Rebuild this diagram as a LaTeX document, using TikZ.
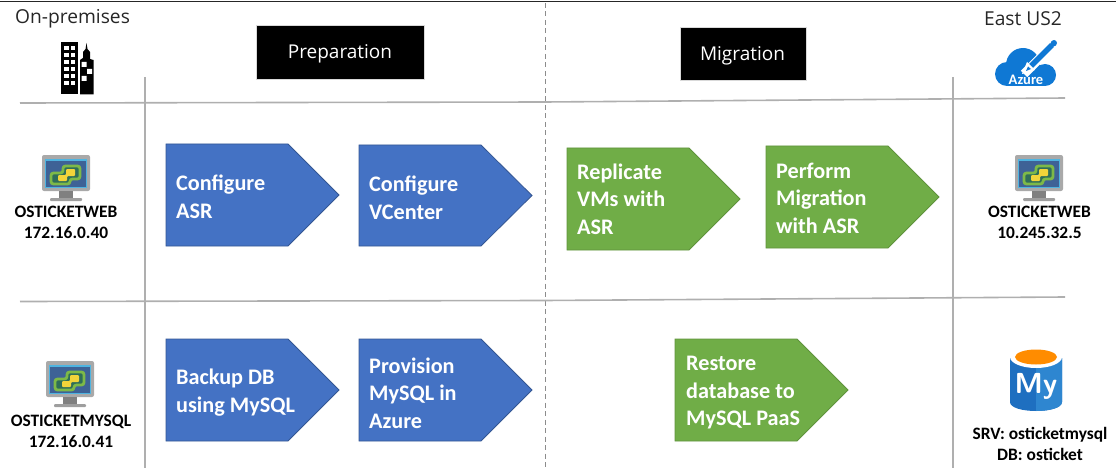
\documentclass[tikz,border=0pt]{standalone}
\usepackage{fontspec}
\setmainfont{Carlito}
\newfontfamily\headfont{Open Sans}
\definecolor{bluearrow}{HTML}{4472C4}
\definecolor{greenarrow}{HTML}{70AD47}
\definecolor{rulegrey}{HTML}{AFAFAF}
\definecolor{azureblue}{HTML}{0F78D4}
\definecolor{mysqlblue}{HTML}{1E6FC0}
\definecolor{mysqllight}{HTML}{2E86D0}
\definecolor{mongrey}{HTML}{A9A9A9}
\definecolor{monscreen}{HTML}{3E6296}
\definecolor{monedge}{HTML}{4FB4E0}
\definecolor{logogreen}{HTML}{7DB948}
\definecolor{logodark}{HTML}{2F6E58}
\definecolor{logoyellow}{HTML}{F2D43A}
\tikzset{
  x=1pt,y=-1pt,
  rulel/.style={draw=rulegrey,line width=1.6pt},
  bluepent/.style={fill=bluearrow,draw=bluearrow!75!black,line width=.8pt},
  greenpent/.style={fill=greenarrow,draw=greenarrow!85!black,line width=.8pt},
  arrowtext/.style={text=white,font=\fontsize{22.2}{27.5}\selectfont\bfseries,align=left,anchor=west,inner sep=0pt},
  headbox/.style={fill=black,text=white,font=\headfont\fontsize{19}{22}\selectfont,inner sep=0pt,anchor=center},
  blackbox/.style={fill=black,draw=black!15,line width=.6pt,inner sep=0pt},
  toptext/.style={font=\headfont\fontsize{19.2}{22}\selectfont,text=black!85,inner sep=0pt},
  hosttext/.style={font=\fontsize{17.4}{20.5}\selectfont\bfseries,align=center,inner sep=0pt,anchor=center},
  monitor/.pic={
    \fill[mongrey,rounded corners=2pt] (-24,-23) rectangle (24,13);
    \fill[black!50] (-7,13) rectangle (7,20);
    \fill[black!38,rounded corners=1pt] (-16,20) rectangle (16,23);
    \fill[monedge] (-21,-19) rectangle (21,9.5);
    \fill[monscreen] (-20,-17.5) rectangle (20,8.5);
    \draw[logogreen,line width=2.8pt,fill=logodark,rounded corners=2.5pt]
      (-15,-5)--(-3,-5)--(-3,-12)--(14,-12)--(14,1)--(4,1)--(4,6)--(-15,6)--cycle;
    \fill[logoyellow,rounded corners=1pt]
      (-8,-3)--(0,-3)--(0,-9)--(9,-9)--(9,-2)--(1,-2)--(1,3)--(-8,3)--cycle;
  }
}
\newcommand{\pentagon}[6]{% style,name,x0,x1,y0,y1
  \path[#1] (#3,#5) coordinate (#2) -- ({#4-51},#5) -- (#4,{(#5+#6)/2}) -- ({#4-51},#6) -- (#3,#6) -- cycle;
}
\begin{document}
\begin{tikzpicture}
\useasboundingbox (0,0) rectangle (1116,468);
% rules
\draw[black!85,line width=1.4pt] (0,1.5) -- (1116,1.5);
\draw[black!45,line width=1pt,dash pattern=on 5pt off 3.5pt] (545,3) -- (545,468);
\draw[rulel] (20,103) -- (545,102) -- (1065,98);
\draw[rulel] (20,301.5) -- (545,300.5) -- (1065,297);
\draw[rulel] (145,77) -- (145,468);
\draw[rulel] (953,77) -- (953,468);
% titles
\node[toptext,anchor=west] (onprem) at (15,19) {On-premises};
\node[toptext] (east) at (1023,19) {East US2};
\node[blackbox,minimum width=168pt,minimum height=54pt] (prepbox) at (340,52) {};
\node[headbox] (prep) at (340,53.5) {Preparation};
\node[blackbox,minimum width=126pt,minimum height=53pt] (migrbox) at (743,53.5) {};
\node[headbox] (migr) at (742.5,56) {Migration};
% building
\fill[black] (61,42) rectangle (78,94.5);
\foreach \cx in {64,70.5}{\foreach \cy in {46,53,60,67,74,81}{\fill[white] (\cx,\cy) rectangle ++(4.5,4.5);}}
\fill[black] (80,94.5) -- (80,60) -- (83,58) -- (83,52) -- (85.5,49) -- (86.5,43) -- (87.5,49) -- (90,52) -- (90,59) -- (93.5,60) -- (93.5,94.5) -- cycle;
\fill[white] (81.5,62) rectangle ++(5,5) (87,69) rectangle ++(5,5) (81.5,76) rectangle ++(5,5);
% azure cloud
\fill[azureblue] (1007,74) circle (12);
\fill[azureblue] (1023,65) circle (17);
\fill[azureblue] (1045,75) circle (11);
\fill[azureblue] (1007,70) rectangle (1045,86);
\draw[white,line width=9pt] (1024,74) -- (1052,46);
\draw[azureblue,line width=5.5pt] (1028,69) -- (1052,45);
\draw[azureblue,line width=6pt,line cap=round] (1053.5,43.5) -- (1054,43);
\fill[white] (1027,62) -- (1022,74) -- (1035,70) -- cycle;
\fill[azureblue] (1028,66.5) -- (1026,71) -- (1031,69) -- cycle;
\node[text=white,font=\fontsize{14.5}{15}\selectfont\bfseries,inner sep=0pt] (azure) at (1026,79.5) {Azure};
% monitors
\pic at (66,178) {monitor};
\pic at (1039,178) {monitor};
\pic at (70,384) {monitor};
% host text
\node[hosttext] (web1) at (66,222.5) {OSTICKETWEB\\172.16.0.40};
\node[hosttext] (web2) at (1039.5,222.5) {OSTICKETWEB\\10.245.32.5};
\node[hosttext] (sql1) at (71,431.5) {OSTICKETMYSQL\\172.16.0.41};
\node[hosttext] (sql2) at (1040,444) {SRV: osticketmysql\\DB: osticket};
% mysql cylinder
\fill[mysqlblue] (1010,358) -- (1010,402) .. controls (1010,414) and (1062,414) .. (1062,402) -- (1062,358) -- cycle;
\fill[mysqllight] (1036,358) -- (1036,411) .. controls (1049,411) and (1062,408) .. (1062,402) -- (1062,358) -- cycle;
\fill[white] (1036,357) ellipse (26 and 11);
\fill[orange!90!yellow] (1036,357) ellipse (21 and 7.5);
\node[text=white,font=\fontsize{29}{29}\selectfont\sffamily\bfseries,inner sep=0pt] (my) at (1036,386) {My};
% arrows
\pentagon{bluepent}{a1}{166}{339}{144}{246}
\pentagon{bluepent}{a2}{359}{532}{145}{246}
\pentagon{greenpent}{a3}{567}{740}{148}{250}
\pentagon{greenpent}{a4}{766}{939}{146}{248}
\pentagon{bluepent}{a5}{166}{339}{339}{441}
\pentagon{bluepent}{a6}{359}{532}{339}{441}
\pentagon{greenpent}{a7}{675}{848}{339}{441}
\node[arrowtext] (t1) at (176,197) {Configure\\ASR};
\node[arrowtext] (t2) at (369,198) {Configure\\VCenter};
\node[arrowtext] (t3) at (577,199) {Replicate\\VMs with\\ASR};
\node[arrowtext] (t4) at (776,198) {Perform\\Migration\\with ASR};
\node[arrowtext] (t5) at (176,392.5) {Backup DB\\using MySQL};
\node[arrowtext] (t6) at (369,393) {Provision\\MySQL in\\Azure};
\node[arrowtext] (t7) at (686,393) {Restore\\database to\\MySQL PaaS};
\end{tikzpicture}
\end{document}
